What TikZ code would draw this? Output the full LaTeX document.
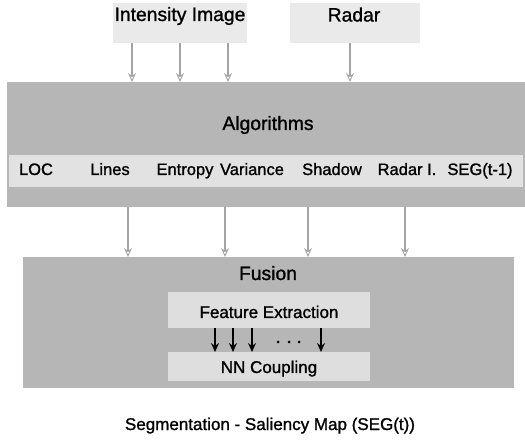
\documentclass[tikz,border=0pt]{standalone}
\usepackage{fontspec}
\setmainfont{Liberation Sans}[FakeBold=1.2]
\usetikzlibrary{arrows.meta}

\definecolor{panelgray}{HTML}{B6B6B6}
\definecolor{bandgray}{HTML}{E2E2E2}
\definecolor{srcgray}{HTML}{EAEAEA}
\definecolor{innergray}{HTML}{DEDEDE}
\definecolor{flowgray}{HTML}{A4A4A4}

\tikzset{
  panel/.style={draw=none, fill=panelgray, inner sep=0pt, anchor=north west},
  srcbox/.style={draw=none, fill=srcgray, inner sep=0pt, anchor=north west},
  lightbox/.style={draw=none, fill=innergray, inner sep=0pt, anchor=north west},
  bandbox/.style={draw=none, fill=bandgray, inner sep=0pt, anchor=north west},
  bigtxt/.style={font=\fontsize{19.3}{22}\selectfont, anchor=base, inner sep=0pt},
  midtxt/.style={font=\fontsize{17}{20}\selectfont, anchor=base, inner sep=0pt},
  algtxt/.style={font=\fontsize{16.5}{19}\selectfont, anchor=base, inner sep=0pt},
  flow/.style={draw=flowgray, line width=1.2pt,
    -{Stealth[open, length=9pt, width=8pt, inset=3pt, line width=0.9pt]}},
  couple/.style={draw=black, line width=2pt,
    -{Stealth[length=9pt, width=8pt, inset=3pt]}},
}

\begin{document}
\begin{tikzpicture}[x=1pt, y=-1pt]
  \useasboundingbox (0,0) rectangle (525,446);

  % input sources
  \node[srcbox, minimum width=134pt, minimum height=40pt] (intensity) at (113,3) {};
  \node[srcbox, minimum width=130pt, minimum height=40pt] (radar) at (290,3) {};
  \node[bigtxt] (intensitytxt) at (180,21) {Intensity Image};
  \node[bigtxt] (radartxt) at (354,21.5) {Radar};

  % algorithms panel
  \node[panel, minimum width=518pt, minimum height=125pt] (algo) at (7,82) {};
  \node[bandbox, minimum width=514pt, minimum height=32pt] (band) at (9,155) {};
  \node[bigtxt] (algotxt) at (268,130) {Algorithms};
  \node[algtxt] (loc) at (36,175) {LOC};
  \node[algtxt] (lines) at (110,175) {Lines};
  \node[algtxt] (entropy) at (185,175) {Entropy};
  \node[algtxt] (variance) at (252,175) {Variance};
  \node[algtxt] (shadow) at (332,175) {Shadow};
  \node[algtxt] (radari) at (407,175) {Radar I.};
  \node[algtxt] (segprev) at (480,175) {SEG(t-1)};

  % fusion panel
  \node[panel, minimum width=491pt, minimum height=131pt] (fusion) at (23,257) {};
  \node[bigtxt] (fusiontxt) at (268,280) {Fusion};
  \node[lightbox, minimum width=202pt, minimum height=36pt] (fe) at (168,292) {};
  \node[lightbox, minimum width=202pt, minimum height=29pt] (nn) at (168,352) {};
  \node[midtxt] (fetxt) at (269,318) {Feature Extraction};
  \node[midtxt] (nntxt) at (269,373) {NN Coupling};

  % output
  \node[midtxt] (segout) at (270,430) {Segmentation - Saliency Map (SEG(t))};

  % columns of the connectors
  \foreach \n/\x in {i1/132, i2/180, i3/228, r1/350,
                     f1/128, f2/225, f3/308, f4/405,
                     c1/215, c2/233, c3/252, c4/321} {
    \coordinate (\n) at (\x,0);
  }

  % sources into the algorithms
  \foreach \n in {i1,i2,i3} \draw[flow] (intensity.south -| \n) -- (algo.north -| \n);
  \draw[flow] (radar.south -| r1) -- (algo.north -| r1);

  % algorithms into fusion
  \foreach \n in {f1,f2,f3,f4} \draw[flow] (algo.south -| \n) -- (fusion.north -| \n);

  % feature extraction to neural coupling
  \foreach \n in {c1,c2,c3,c4} \draw[couple] (fe.south -| \n) -- (nn.north -| \n);
  \foreach \x in {278,289,299} \fill (\x,342) circle (1.5pt);
\end{tikzpicture}
\end{document}
